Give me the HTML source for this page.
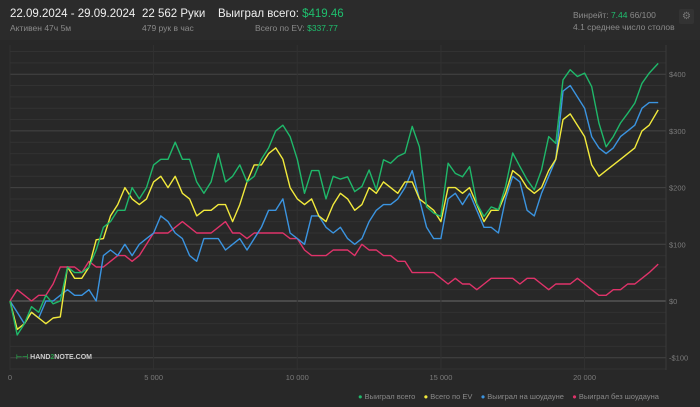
<!DOCTYPE html>
<html><head><meta charset="utf-8"><style>
body{margin:0;width:700px;height:407px;background:#282828;font-family:"Liberation Sans",sans-serif;overflow:hidden;position:relative}
.h{position:absolute;white-space:nowrap}
.w{color:#f0f0f0;font-size:11.5px}
.g{color:#8a8a8a;font-size:8.5px}
.gr{color:#1fbf6e}
</style></head><body>
<div style="position:absolute;left:0;top:0;width:700px;height:40px;background:#2b2b2b"></div>
<div class="h w" style="left:10px;top:8px">22.09.2024 - 29.09.2024</div>
<div class="h g" style="left:10px;top:23px">Активен 47ч 5м</div>
<div class="h w" style="left:142px;top:8px">22 562 Руки</div>
<div class="h g" style="left:142px;top:23px">479 рук в час</div>
<div class="h w" style="left:218px;top:8px">Выиграл всего: <span class="gr">$419.46</span></div>
<div class="h g" style="left:255px;top:23px">Всего по EV: <span class="gr">$337.77</span></div>
<div class="h g" style="left:573px;top:10px">Винрейт: <span class="gr">7.44</span> 66/100</div>
<div class="h g" style="left:573px;top:22px">4.1 среднее число столов</div>
<div class="h" style="left:679px;top:9px;width:15px;height:15px;background:#333;border-radius:2px;color:#777;font-size:10px;text-align:center;line-height:15px">⚙</div>
<svg id="c" width="700" height="407" style="position:absolute;left:0;top:0"></svg>
<script>
const hands=[0,250,500,750,1000,1250,1500,1750,2000,2250,2500,2750,3000,3250,3500,3750,4000,4250,4500,4750,5000,5250,5500,5750,6000,6250,6500,6750,7000,7250,7500,7750,8000,8250,8500,8750,9000,9250,9500,9750,10000,10250,10500,10750,11000,11250,11500,11750,12000,12250,12500,12750,13000,13250,13500,13750,14000,14250,14500,14750,15000,15250,15500,15750,16000,16250,16500,16750,17000,17250,17500,17750,18000,18250,18500,18750,19000,19250,19500,19750,20000,20250,20500,20750,21000,21250,21500,21750,22000,22250,22562];
const totalWon=[0,-60,-40,-10,-20,10,-5,0,60,50,50,60,90,130,140,160,160,200,180,200,240,250,250,280,250,250,210,190,210,260,210,220,240,210,220,250,270,300,310,290,250,190,230,230,180,220,215,219,193,202,231,196,249,243,255,261,308,272,166,155,149,243,225,219,237,172,149,166,161,202,261,237,214,196,231,290,278,390,408,396,402,378,314,272,290,314,331,349,384,402,419];
const evWon=[0,-50,-40,-20,-30,-40,-30,-28,60,40,40,60,108,110,150,170,200,180,170,180,210,220,200,220,190,180,150,160,160,170,170,140,170,210,240,240,260,270,250,200,180,170,180,150,140,170,190,180,160,170,200,190,210,200,190,210,210,180,170,160,140,200,200,190,200,170,140,160,160,190,230,220,200,190,200,230,250,320,330,310,290,240,220,230,240,250,260,270,300,310,337];
const sdWon=[0,-20,-40,-20,-30,0,0,10,20,10,10,20,0,80,90,80,100,80,100,110,120,150,140,120,110,80,70,110,110,110,90,100,110,90,110,130,160,160,180,120,110,100,150,150,130,120,130,110,100,110,140,160,170,170,180,200,230,180,130,110,110,180,190,170,190,160,130,130,120,180,220,210,160,150,190,220,250,370,380,360,340,290,270,260,270,290,300,310,340,350,350];
const nsdWon=[0,20,10,0,10,10,30,60,60,60,50,70,60,60,70,80,80,70,80,100,120,120,120,130,140,130,120,120,120,130,140,120,120,110,120,120,120,120,120,110,110,90,80,80,80,90,90,90,80,100,90,90,80,80,70,70,50,50,50,50,40,30,40,30,30,20,30,40,40,40,40,30,40,40,30,20,30,30,30,40,30,20,10,10,20,20,30,30,40,50,65];
const yTicks=[-100,0,100,200,300,400];
const xTicks=[0,5000,10000,15000,20000];
const seriesColors=['#1fb86a','#f2ea3c','#3b94e0','#e0336a'];
const NS='http://www.w3.org/2000/svg';
const svg=document.getElementById('c');
const X=h=>10+h*(655/22800);
const Y=v=>301-v*0.567;
function mk(t,a){const e=document.createElementNS(NS,t);for(const k in a)e.setAttribute(k,a[k]);svg.appendChild(e);return e;}
for(let v=-120;v<=440;v+=20){
  const l=mk('line',{x1:10,x2:666,y1:Y(v),y2:Y(v),stroke:v===0?'#6a6a6a':(v%100===0?'#444':'#323232'),'stroke-width':1});
  
  
}
xTicks.forEach(t=>{
  const l=mk('line',{x1:X(t),x2:X(t),y1:45,y2:370,stroke:'#313131'});
  
  
  const tx=mk('text',{x:X(t),y:380,fill:'#7a7a7a','font-size':7.5,'text-anchor':'middle','font-family':'Liberation Sans'});
  tx.textContent=t===0?'0':(t/1000)+' 000';
  
  
});
mk('line',{x1:666,x2:666,y1:45,y2:370,stroke:'#3a3a3a'});
yTicks.forEach(t=>{
  const tx=mk('text',{x:669,y:Y(t)+3,fill:'#7a7a7a','font-size':7.5,'font-family':'Liberation Sans'});
  tx.textContent=t<0?'-$'+(-t):'$'+t;
  
  
});
const names=['line-total-won','line-ev-won','line-showdown-won','line-non-showdown-won'];
[nsdWon,sdWon,evWon,totalWon].forEach((arr,i)=>{
  const idx=3-i;
  const p=mk('polyline',{points:arr.map((v,j)=>X(hands[j]).toFixed(1)+','+Y(v).toFixed(1)).join(' '),fill:'none',stroke:seriesColors[idx],'stroke-width':1.4,'stroke-linejoin':'round'});
  
  
});
</script>
<div class="h" style="left:16px;top:353px;font-size:7px;font-weight:bold;color:#ccc"><span style="color:#2a9d4a">⊢⊣</span> HAND<span style="color:#2a9d4a">2</span>NOTE.COM</div>
<div class="h g" style="left:358px;top:392px;font-size:7.5px">
<span><span style="color:#1fb86a">●</span> Выиграл всего</span>&nbsp;&nbsp;&nbsp;
<span><span style="color:#f2ea3c">●</span> Всего по EV</span>&nbsp;&nbsp;&nbsp;
<span><span style="color:#3b94e0">●</span> Выиграл на шоудауне</span>&nbsp;&nbsp;&nbsp;
<span><span style="color:#e0336a">●</span> Выиграл без шоудауна</span>
</div>
</body></html>
